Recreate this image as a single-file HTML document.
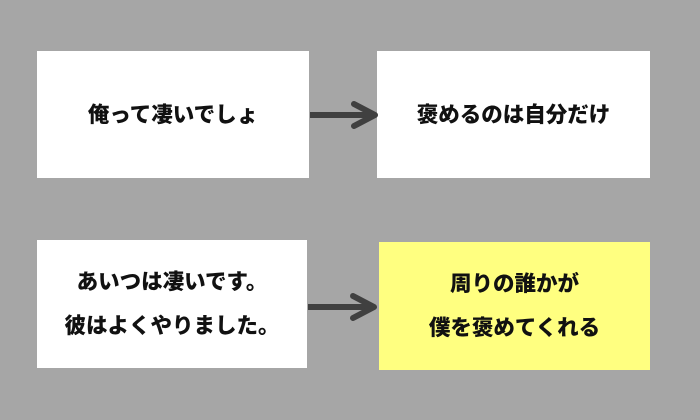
<!DOCTYPE html>
<html><head><meta charset="utf-8"><style>
body{margin:0;width:700px;height:420px;background:#a6a6a6;position:relative;overflow:hidden;font-family:"Liberation Sans","Noto Sans CJK JP",sans-serif;}
.b{position:absolute;background:#fff;display:flex;align-items:center;justify-content:center;text-align:center;font-weight:900;font-size:21.5px;color:#111;line-height:44px;}
</style></head><body>
<div class="b" style="left:37px;top:51px;width:272px;height:127px;">俺って凄いでしょ</div>
<div class="b" style="left:377px;top:51px;width:273px;height:127px;">褒めるのは自分だけ</div>
<div class="b" style="left:37px;top:240px;width:270px;height:128px;">あいつは凄いです。<br>彼はよくやりました。</div>
<div class="b" style="left:379px;top:242px;width:271px;height:128px;background:#ffff80;">周りの誰かが<br>僕を褒めてくれる</div>
<svg width="700" height="420" style="position:absolute;left:0;top:0">
<g stroke="#404040" stroke-width="6" fill="none" stroke-linecap="round" stroke-linejoin="round">
<line x1="310" y1="115" x2="374" y2="115" stroke-linecap="butt"/>
<polyline points="354,104 375,115 354,126"/>
<line x1="308" y1="307" x2="374" y2="307" stroke-linecap="butt"/>
<polyline points="353,296 374,307 353,318"/>
</g></svg>
</body></html>
